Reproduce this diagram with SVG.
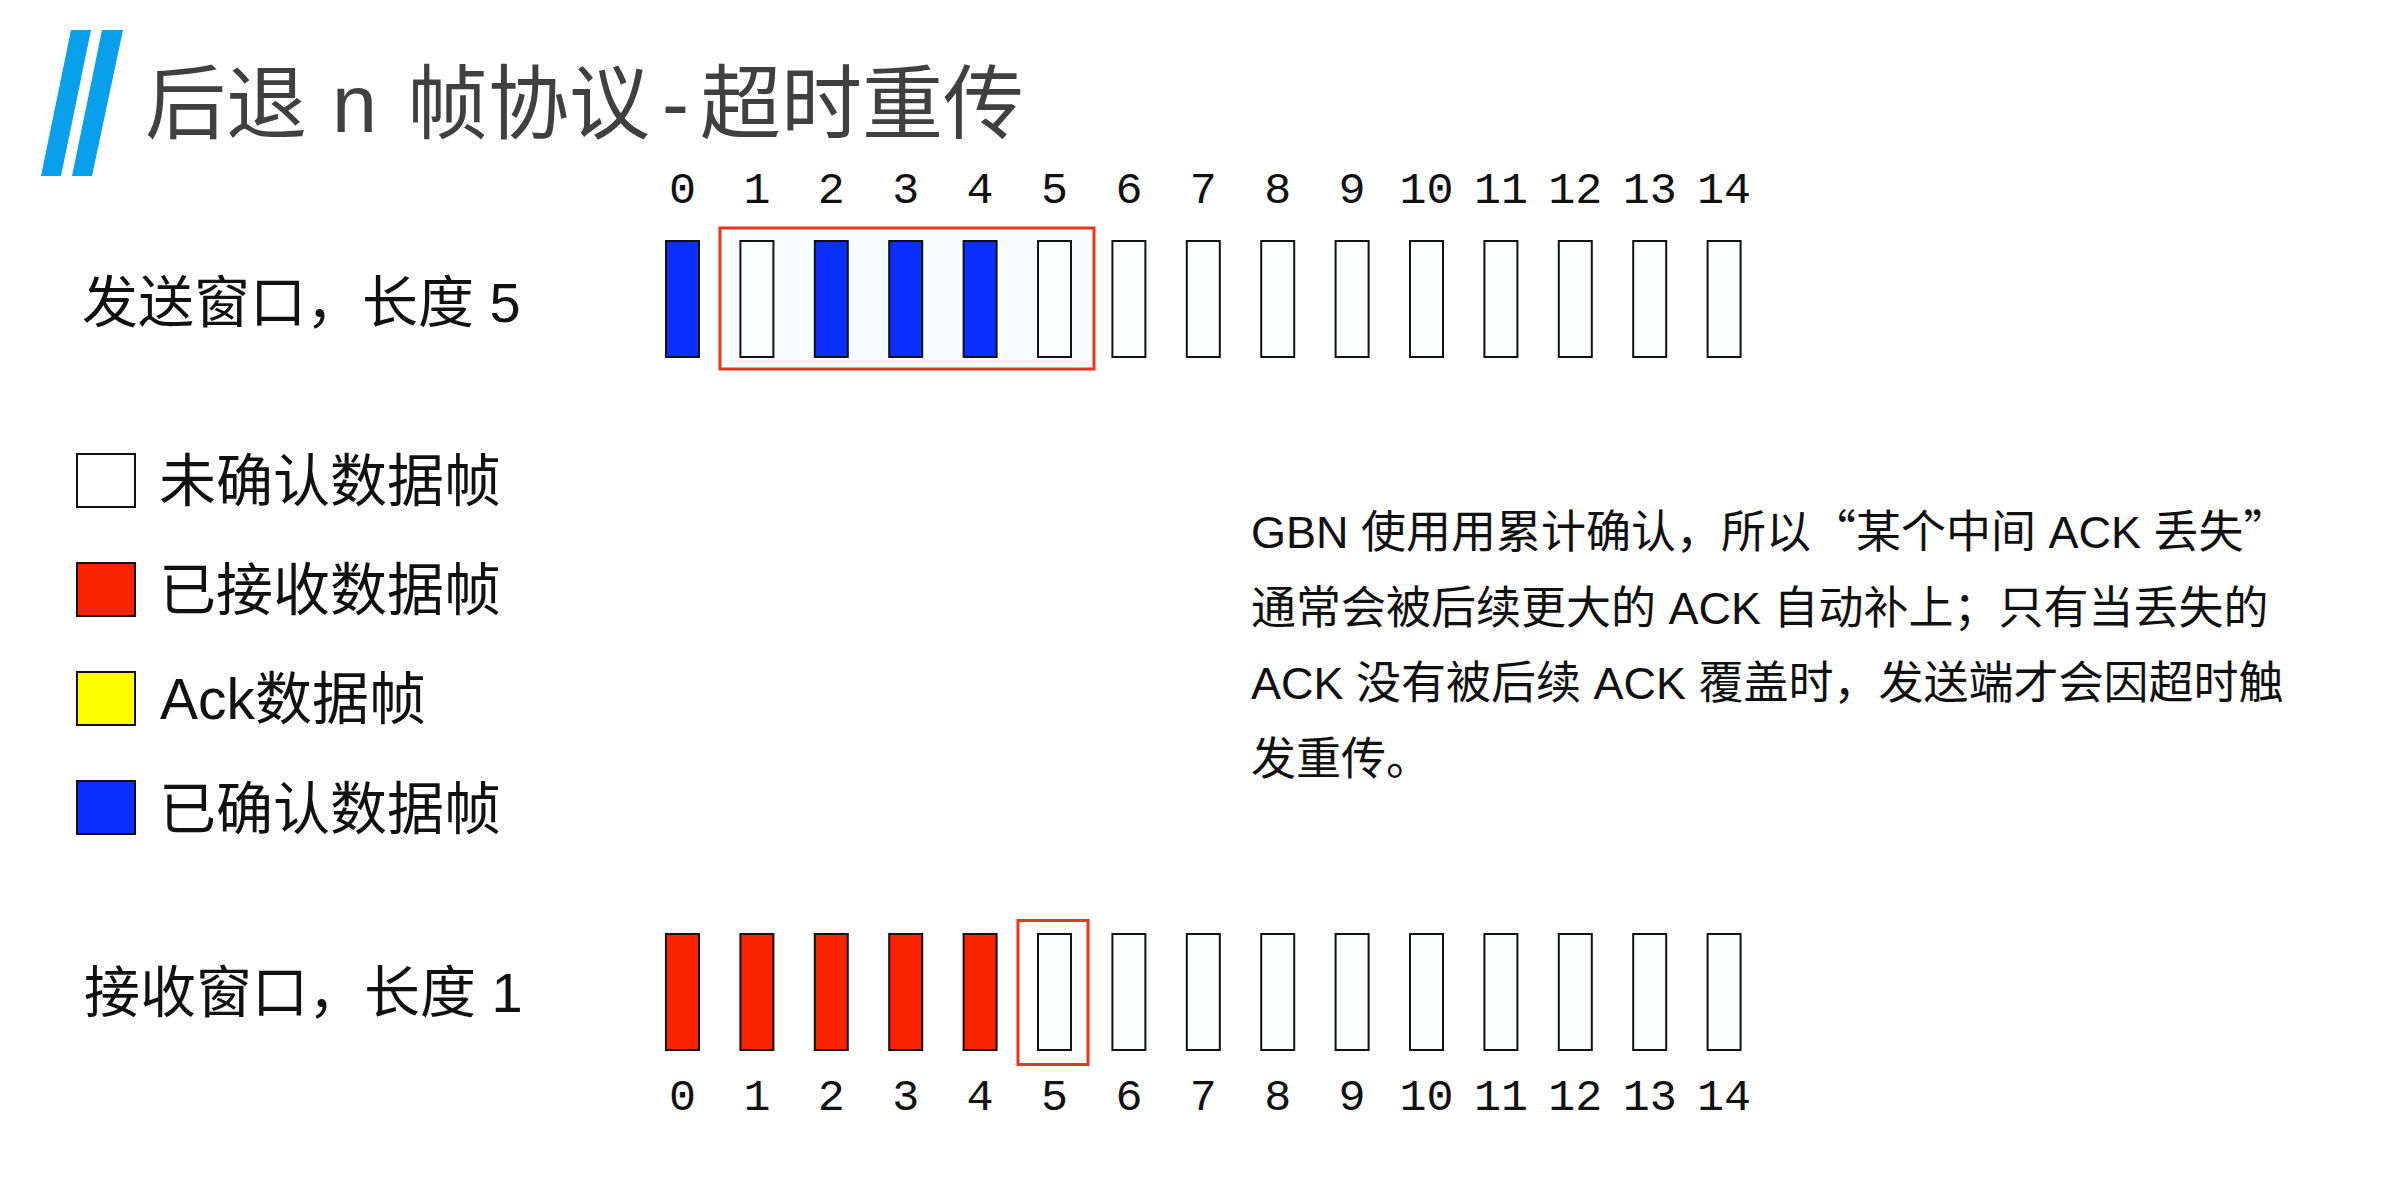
<svg xmlns="http://www.w3.org/2000/svg" width="2397" height="1196" viewBox="0 0 2397 1196">
  <style>
    .t { font-family: "Liberation Sans", "Noto Sans CJK SC", sans-serif; fill: #111; }
    .title { font-family: "Liberation Sans", "Noto Sans CJK SC", sans-serif; fill: #404040; font-size: 81px; }
    .lbl { font-size: 56px; }
    .leg { font-size: 57px; }
    .para { font-size: 45px; }
    .cjk { font-family: "Noto Sans CJK SC", sans-serif; }
    .num { font-family: "Liberation Mono", monospace; font-size: 45px; fill: #111; text-anchor: middle; }
    .bar { stroke: #111; stroke-width: 2; }
    .empty { fill: #fdfefe; }
    .blue { fill: #0b2ffc; }
    .red { fill: #fa2300; }
    .win { fill: none; stroke: #e8351f; stroke-width: 3; }
  </style>
  <rect width="2397" height="1196" fill="#ffffff"/>

  <g id="title">
    <polygon points="71,30 91,30 61,176 41,176" fill="#08a0ea"/>
    <polygon points="102,30 123,30 92,176 72,176" fill="#08a0ea"/>
    <text class="title" x="145" y="132">后退<tspan x="332">n</tspan><tspan x="407">帧协议</tspan><tspan x="662">-</tspan><tspan x="700">超时重传</tspan></text>
  </g>

  <g id="send-label">
    <text class="t lbl" x="82" y="322">发送窗口，长度 5</text>
  </g>

  <g id="send-numbers">
    <text class="num" x="682.5" y="203">0</text>
    <text class="num" x="756.9" y="203">1</text>
    <text class="num" x="831.3" y="203">2</text>
    <text class="num" x="905.7" y="203">3</text>
    <text class="num" x="980.1" y="203">4</text>
    <text class="num" x="1054.5" y="203">5</text>
    <text class="num" x="1128.9" y="203">6</text>
    <text class="num" x="1203.3" y="203">7</text>
    <text class="num" x="1277.7" y="203">8</text>
    <text class="num" x="1352.1" y="203">9</text>
    <text class="num" x="1426.5" y="203">10</text>
    <text class="num" x="1500.9" y="203">11</text>
    <text class="num" x="1575.3" y="203">12</text>
    <text class="num" x="1649.7" y="203">13</text>
    <text class="num" x="1724.1" y="203">14</text>
  </g>

  <g id="send-window">
    <rect x="720" y="228" width="374" height="141" fill="#f6fdff" stroke="none"/>
    <rect class="bar blue" x="666" y="241" width="33" height="116"/>
    <rect class="bar empty" x="740.4" y="241" width="33" height="116"/>
    <rect class="bar blue" x="814.8" y="241" width="33" height="116"/>
    <rect class="bar blue" x="889.2" y="241" width="33" height="116"/>
    <rect class="bar blue" x="963.6" y="241" width="33" height="116"/>
    <rect class="bar empty" x="1038" y="241" width="33" height="116"/>
    <rect class="bar empty" x="1112.4" y="241" width="33" height="116"/>
    <rect class="bar empty" x="1186.8" y="241" width="33" height="116"/>
    <rect class="bar empty" x="1261.2" y="241" width="33" height="116"/>
    <rect class="bar empty" x="1335.6" y="241" width="33" height="116"/>
    <rect class="bar empty" x="1410" y="241" width="33" height="116"/>
    <rect class="bar empty" x="1484.4" y="241" width="33" height="116"/>
    <rect class="bar empty" x="1558.8" y="241" width="33" height="116"/>
    <rect class="bar empty" x="1633.2" y="241" width="33" height="116"/>
    <rect class="bar empty" x="1707.6" y="241" width="33" height="116"/>
    <rect class="win" x="720" y="228" width="374" height="141"/>
  </g>

  <g id="legend">
    <rect class="bar" x="77" y="454" width="58" height="53" fill="#ffffff"/>
    <text class="t leg" x="159" y="501">未确认数据帧</text>
    <rect class="bar" x="77" y="563" width="58" height="53" fill="#fa2300"/>
    <text class="t leg" x="159" y="610">已接收数据帧</text>
    <rect class="bar" x="77" y="672" width="58" height="53" fill="#ffff00"/>
    <text class="t leg" x="160" y="719">Ack数据帧</text>
    <rect class="bar" x="77" y="781" width="58" height="53" fill="#0b2ffc"/>
    <text class="t leg" x="159" y="829">已确认数据帧</text>
  </g>

  <g id="note">
    <text class="t para" x="1251" y="548">GBN 使用用累计确认，所以<tspan class="cjk">“</tspan>某个中间 ACK 丢失<tspan class="cjk">”</tspan></text>
    <text class="t para" x="1251" y="624">通常会被后续更大的 ACK 自动补上；只有当丢失的</text>
    <text class="t para" x="1251" y="699">ACK 没有被后续 ACK 覆盖时，发送端才会因超时触</text>
    <text class="t para" x="1251" y="775">发重传。</text>
  </g>

  <g id="recv-label">
    <text class="t lbl" x="84" y="1012">接收窗口，长度 1</text>
  </g>

  <g id="recv-window">
    <rect class="bar red" x="666" y="934" width="33" height="116"/>
    <rect class="bar red" x="740.4" y="934" width="33" height="116"/>
    <rect class="bar red" x="814.8" y="934" width="33" height="116"/>
    <rect class="bar red" x="889.2" y="934" width="33" height="116"/>
    <rect class="bar red" x="963.6" y="934" width="33" height="116"/>
    <rect class="bar empty" x="1038" y="934" width="33" height="116"/>
    <rect class="bar empty" x="1112.4" y="934" width="33" height="116"/>
    <rect class="bar empty" x="1186.8" y="934" width="33" height="116"/>
    <rect class="bar empty" x="1261.2" y="934" width="33" height="116"/>
    <rect class="bar empty" x="1335.6" y="934" width="33" height="116"/>
    <rect class="bar empty" x="1410" y="934" width="33" height="116"/>
    <rect class="bar empty" x="1484.4" y="934" width="33" height="116"/>
    <rect class="bar empty" x="1558.8" y="934" width="33" height="116"/>
    <rect class="bar empty" x="1633.2" y="934" width="33" height="116"/>
    <rect class="bar empty" x="1707.6" y="934" width="33" height="116"/>
    <rect class="win" x="1018" y="920.5" width="70" height="144"/>
  </g>

  <g id="recv-numbers">
    <text class="num" x="682.5" y="1110">0</text>
    <text class="num" x="756.9" y="1110">1</text>
    <text class="num" x="831.3" y="1110">2</text>
    <text class="num" x="905.7" y="1110">3</text>
    <text class="num" x="980.1" y="1110">4</text>
    <text class="num" x="1054.5" y="1110">5</text>
    <text class="num" x="1128.9" y="1110">6</text>
    <text class="num" x="1203.3" y="1110">7</text>
    <text class="num" x="1277.7" y="1110">8</text>
    <text class="num" x="1352.1" y="1110">9</text>
    <text class="num" x="1426.5" y="1110">10</text>
    <text class="num" x="1500.9" y="1110">11</text>
    <text class="num" x="1575.3" y="1110">12</text>
    <text class="num" x="1649.7" y="1110">13</text>
    <text class="num" x="1724.1" y="1110">14</text>
  </g>
</svg>
